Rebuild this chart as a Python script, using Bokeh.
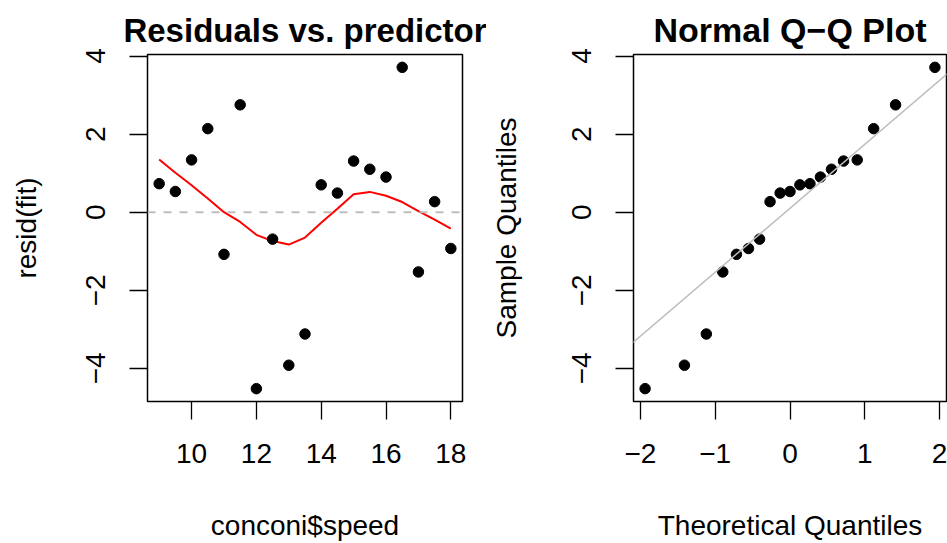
import numpy as np
from statistics import NormalDist
from bokeh.plotting import figure
from bokeh.layouts import row
from bokeh.models import FixedTicker, Range1d, Span, Slope
from bokeh.embed import file_html
from bokeh.resources import INLINE

# ---- data -------------------------------------------------------------
speed = [9.0, 9.5, 10.0, 10.5, 11.0, 11.5, 12.0, 12.5, 13.0, 13.5,
         14.0, 14.5, 15.0, 15.5, 16.0, 16.5, 17.0, 17.5, 18.0]
resid = [0.73, 0.53, 1.34, 2.14, -1.08, 2.75, -4.52, -0.69, -3.92, -3.12,
         0.70, 0.49, 1.31, 1.10, 0.90, 3.71, -1.53, 0.27, -0.93]
# smoothed trend of the residuals over speed
smooth = [1.35, 1.01, 0.69, 0.35, 0.00, -0.25, -0.58, -0.74, -0.83, -0.65,
          -0.27, 0.09, 0.46, 0.52, 0.42, 0.26, 0.03, -0.19, -0.42]
# theoretical normal quantiles for 19 points
theo = [-1.938, -1.412, -1.119, -0.899, -0.716, -0.555, -0.407, -0.267, -0.132, 0.0,
        0.132, 0.267, 0.407, 0.555, 0.716, 0.899, 1.119, 1.412, 1.938]

speed_ticks = [10, 12, 14, 16, 18]
resid_ticks = [-4, -2, 0, 2, 4]
theo_ticks = [-2, -1, 0, 1, 2]

FONT = "Liberation Sans"
LABEL_SIZE = "28px"
H = 543


def padded(vals, frac=0.04):
    lo, hi = min(vals), max(vals)
    d = (hi - lo) * frac
    return Range1d(lo - d, hi + d)


def minus(v):
    return f"{v:g}".replace("-", "\u2212")


def panel(width, left, right, xr, yr, xticks, title, title_size,
          xlabel, ylabel, ylab_off):
    p = figure(width=width, height=H, x_range=xr, y_range=yr,
               output_backend="svg", toolbar_location=None,
               min_border_left=left, min_border_right=right,
               min_border_top=54, min_border_bottom=141)
    p.grid.visible = False
    p.background_fill_color = "white"
    p.border_fill_color = "white"
    p.outline_line_color = "black"
    p.outline_line_width = 1.5

    p.title.text = title
    p.title.align = "center"
    p.title.text_font = FONT
    p.title.text_font_size = title_size
    p.title.text_font_style = "bold"
    p.title.text_color = "black"
    p.title.standoff = 11

    for ax, ticks in ((p.xaxis[0], xticks), (p.yaxis[0], resid_ticks)):
        ax.ticker = FixedTicker(ticks=ticks)
        ax.major_label_overrides = {t: minus(t) for t in ticks}
        ax.axis_line_color = None
        ax.major_tick_in = 0
        ax.major_tick_out = 18
        ax.major_tick_line_color = "black"
        ax.major_tick_line_width = 1.3
        ax.minor_tick_line_color = None
        ax.major_label_text_font = FONT
        ax.major_label_text_font_size = LABEL_SIZE
        ax.major_label_text_color = "black"
        ax.major_label_standoff = 24
        ax.axis_label_text_font = FONT
        ax.axis_label_text_font_size = LABEL_SIZE
        ax.axis_label_text_font_style = "normal"
        ax.axis_label_text_color = "black"
        ax.axis_label_text_line_height = 1.0
    p.xaxis[0].axis_label = xlabel
    p.xaxis[0].axis_label_standoff = 44
    p.yaxis[0].axis_label = ylabel
    p.yaxis[0].axis_label_standoff = ylab_off
    p.yaxis[0].major_label_orientation = "vertical"
    return p


# ---- residuals against speed -------------------------------------------
left = panel(486, 147, 24, padded(speed), padded(resid), speed_ticks,
             "Residuals vs. predictor", "33px",
             "conconi$speed", "resid(fit)", 42)
left.add_layout(Span(location=0, dimension="width", line_color="#BEBEBE",
                     line_width=2, line_dash="8 8"))
left.line(speed, smooth, line_color="#FF0000", line_width=2)
left.scatter(speed, resid, size=10.5, color="black")

# ---- normal Q-Q plot -----------------------------------------------------
sample = np.sort(np.array(resid))
q1, q3 = np.percentile(sample, [25, 75])
z3 = NormalDist().inv_cdf(0.75)
slope = (q3 - q1) / (2 * z3)
intercept = (q1 + q3) / 2

right = panel(461, 147, 1, padded(theo), padded(resid), theo_ticks,
              "Normal Q\u2212Q Plot", "34px",
              "Theoretical Quantiles", "Sample Quantiles", 48)
right.add_layout(Slope(gradient=slope, y_intercept=intercept,
                       line_color="#BEBEBE", line_width=1.5))
right.scatter(theo, sample, size=10.5, color="black")

layout = row(left, right, spacing=0)
open("out.html", "w").write(file_html(layout, INLINE))
